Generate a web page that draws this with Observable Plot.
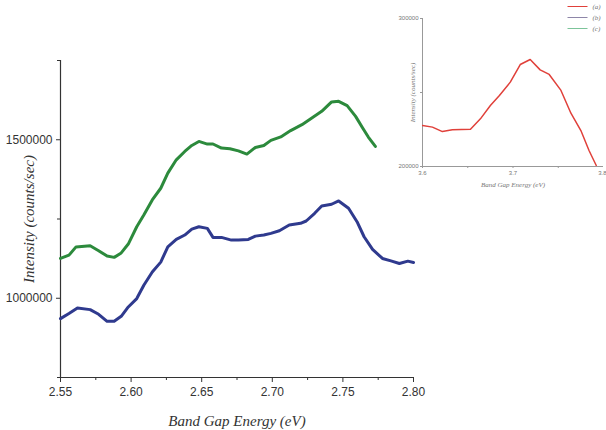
<!DOCTYPE html>
<html>
<head>
<meta charset="utf-8">
<script src="https://cdn.jsdelivr.net/npm/d3@7"></script>
<script src="https://cdn.jsdelivr.net/npm/@observablehq/plot@0.6"></script>
<style>
  body { margin: 0; background: #fff; }
  #wrap { position: relative; width: 606px; height: 430px; overflow: hidden; }
  #wrap svg { display: block; background: transparent !important; }
  g[aria-label="x-axis label"] text, g[aria-label="y-axis label"] text { font-family: "Liberation Serif", serif; font-style: italic; }
</style>
</head>
<body>
<div id="wrap"></div>
<script>
// Main chart: series (b) blue and (c) green
const energyB = [2.550, 2.556, 2.562, 2.571, 2.577, 2.583, 2.588, 2.593, 2.598, 2.604, 2.609, 2.615, 2.621, 2.626, 2.632, 2.638, 2.643, 2.648, 2.654, 2.658, 2.664, 2.671, 2.676, 2.683, 2.688, 2.694, 2.699, 2.705, 2.712, 2.720, 2.724, 2.730, 2.735, 2.742, 2.747, 2.754, 2.760, 2.765, 2.771, 2.778, 2.784, 2.790, 2.796, 2.800];
const intensityB = [935700, 952000, 969400, 964100, 949400, 927200, 927200, 943000, 972500, 999000, 1041000, 1083000, 1114000, 1162300, 1185600, 1199400, 1218000, 1225600, 1220500, 1192000, 1192000, 1183500, 1183500, 1185600, 1196000, 1199400, 1204700, 1213000, 1231000, 1236400, 1243700, 1268000, 1291000, 1296500, 1307000, 1283800, 1241500, 1194000, 1154000, 1125600, 1118000, 1109800, 1117000, 1113000];
const energyC = [2.550, 2.556, 2.561, 2.571, 2.577, 2.583, 2.588, 2.593, 2.598, 2.604, 2.609, 2.615, 2.621, 2.626, 2.632, 2.638, 2.643, 2.648, 2.654, 2.658, 2.664, 2.670, 2.676, 2.682, 2.688, 2.694, 2.699, 2.706, 2.713, 2.721, 2.728, 2.735, 2.742, 2.747, 2.753, 2.759, 2.764, 2.768, 2.773];
const intensityC = [1125600, 1136000, 1162000, 1165500, 1150000, 1133000, 1129000, 1143000, 1171000, 1225600, 1262600, 1310000, 1347000, 1394600, 1436700, 1463000, 1482000, 1494700, 1486300, 1486600, 1473700, 1471500, 1465000, 1454700, 1475700, 1482000, 1498000, 1509000, 1529000, 1547500, 1568700, 1589600, 1619300, 1621300, 1607600, 1573800, 1537000, 1508600, 1478800];
// Inset: series (a) red
const energyA = [3.600, 3.611, 3.622, 3.633, 3.653, 3.664, 3.675, 3.685, 3.697, 3.708, 3.719, 3.730, 3.740, 3.753, 3.764, 3.775, 3.784, 3.792];
const intensityA = [227700, 226600, 223600, 224800, 225200, 232200, 241200, 248000, 257000, 268900, 272300, 265300, 262200, 251400, 236000, 224300, 210800, 200700];
// Ticks
const xTicks = [2.55, 2.60, 2.65, 2.70, 2.75, 2.80];
const xMinor = [2.575, 2.625, 2.675, 2.725, 2.775];
const yTicks = [1000000, 1500000];
const yMinor = [750000, 1250000, 1750000];
const insetXTicks = [3.6, 3.7];
const insetXEdgeTick = [3.8];
const insetXMinor = [3.65, 3.75];
const insetYTicks = [200000, 300000];
const insetYMinor = [250000];
const legendLabels = ["(a)", "(b)", "(c)"];
const legendColors = ["#e0403a", "#8e86a8", "#7cc49a"];
const xLabel = "Band Gap Energy (eV)";
const yLabel = "Intensity (counts/sec)";

const B = energyB.map((e, i) => ({e, v: intensityB[i]}));
const C = energyC.map((e, i) => ({e, v: intensityC[i]}));
const A = energyA.map((e, i) => ({e, v: intensityA[i]}));

const axisColor = "#333";
const main = Plot.plot({
  width: 606, height: 430,
  marginLeft: 60, marginRight: 193, marginTop: 60, marginBottom: 53,
  style: {fontFamily: "Liberation Sans, Arial, sans-serif", fontSize: "12px", color: "#333", background: "transparent", overflow: "visible"},
  x: {domain: [2.55, 2.80]},
  y: {domain: [750000, 1750000]},
  marks: [
    Plot.ruleX([2.55], {stroke: axisColor, strokeWidth: 1.2}),
    Plot.ruleY([750000], {stroke: axisColor, strokeWidth: 1.2}),
    Plot.axisX(xTicks, {tickSize: 5, tickPadding: 5, tickFormat: ".2f", stroke: axisColor, label: xLabel, labelArrow: "none", labelAnchor: "center", labelOffset: 48}),
    Plot.axisX(xMinor, {tickSize: 3, text: null, stroke: axisColor, label: null}),
    Plot.axisY(yTicks, {tickSize: 4, tickPadding: 4, tickFormat: d => String(d), stroke: axisColor, label: yLabel, labelArrow: "none", labelAnchor: "center", labelOffset: 37}),
    Plot.axisY(yMinor, {tickSize: 3, text: null, stroke: axisColor, label: null}),
    Plot.line(C, {x: "e", y: "v", stroke: "#2c8a3c", strokeWidth: 3}),
    Plot.line(B, {x: "e", y: "v", stroke: "#2f3a8e", strokeWidth: 3})
  ]
});

const inset = Plot.plot({
  width: 606, height: 200,
  marginLeft: 422, marginRight: 3, marginTop: 18, marginBottom: 34,
  style: {fontFamily: "Liberation Sans, Arial, sans-serif", fontSize: "6px", color: "#777", background: "transparent"},
  x: {domain: [3.6, 3.8]},
  y: {domain: [200000, 300000]},
  marks: [
    Plot.ruleX([3.6], {stroke: "#999", strokeWidth: 1}),
    Plot.ruleY([200000], {stroke: "#999", strokeWidth: 1}),
    Plot.axisX(insetXTicks, {tickSize: 2, tickPadding: 2, tickFormat: ".1f", stroke: "#999", label: xLabel, labelArrow: "none", labelAnchor: "center", labelOffset: 20}),
    Plot.axisX(insetXEdgeTick, {tickSize: 2, tickPadding: 2, tickFormat: ".1f", stroke: "#999", textAnchor: "end", dx: 3, label: null}),
    Plot.axisX(insetXMinor, {tickSize: 2, text: null, stroke: "#999", label: null}),
    Plot.axisY(insetYTicks, {tickSize: 2, tickPadding: 2, tickFormat: d => String(d), stroke: "#999", label: yLabel, labelArrow: "none", labelAnchor: "center", labelOffset: 12}),
    Plot.axisY(insetYMinor, {tickSize: 2, text: null, stroke: "#999", label: null}),
    Plot.line(A, {x: "e", y: "v", stroke: "#e0403a", strokeWidth: 1.5, clip: true})
  ]
});

const legendData = legendLabels.map((label, i) => ({label, color: legendColors[i], row: i}));
const legend = Plot.plot({
  width: 606, height: 40,
  margin: 0,
  style: {background: "transparent"},
  x: {type: "identity", axis: null},
  y: {type: "identity", axis: null},
  marks: [
    Plot.link(legendData, {x1: () => 567, x2: () => 587, y1: d => 6 + d.row * 11, y2: d => 6 + d.row * 11, stroke: d => d.color, strokeWidth: 1}),
    Plot.text(legendData, {x: () => 592, y: d => 6 + d.row * 11, text: "label", textAnchor: "start", fontSize: 7, fontStyle: "italic", fontFamily: "Liberation Serif, serif", fill: "#777"})
  ]
});

inset.querySelectorAll('g[aria-label="x-axis label"] text, g[aria-label="y-axis label"] text').forEach(t => t.setAttribute("font-size", 7));
main.querySelectorAll('g[aria-label="x-axis label"] text, g[aria-label="y-axis label"] text').forEach(t => t.setAttribute("font-size", 15));

// Merge the inset and legend layers into the main SVG
const svgNS = "http://www.w3.org/2000/svg";
function mergeInto(src, dst, fontSize, color) {
  const g = document.createElementNS(svgNS, "g");
  g.setAttribute("font-family", "Liberation Sans, Arial, sans-serif");
  g.setAttribute("font-size", fontSize);
  g.setAttribute("style", "color:" + color);
  [...src.childNodes].forEach(n => { if (n.nodeName.toLowerCase() !== "style") g.appendChild(n); });
  dst.appendChild(g);
}
mergeInto(inset, main, 6, "#777");
mergeInto(legend, main, 7, "#777");

document.getElementById("wrap").appendChild(main);
</script>
</body>
</html>
